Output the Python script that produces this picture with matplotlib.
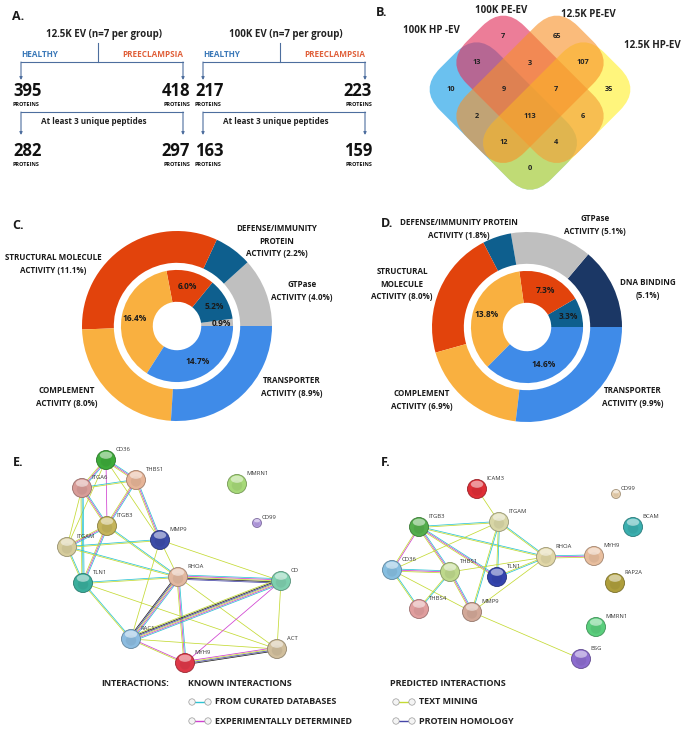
import matplotlib
matplotlib.use("Agg")
import matplotlib.pyplot as plt
import matplotlib.colors as mcolors
import numpy as np
from matplotlib.patches import Circle, Ellipse, FancyBboxPatch
from matplotlib.transforms import Affine2D

plt.rcParams["font.family"] = ["Open Sans", "DejaVu Sans"]

W, H = 685, 729

# ── panel A: protein counts ─────────────────────────────────────────────────
ev_groups = ["12.5K EV (n=7 per group)", "100K EV (n=7 per group)"]
healthy_total = [395, 217]
pe_total = [418, 223]
healthy_filtered = [282, 163]
pe_filtered = [297, 159]

# ── panel B: venn ───────────────────────────────────────────────────────────
venn_sets = ["100K HP -EV", "100K PE-EV", "12.5K PE-EV", "12.5K HP-EV"]
venn_colors = ["#1EA2E8", "#E2345F", "#F7922A", "#FFEE1E"]
venn_alpha = [0.66, 0.64, 0.62, 0.58]
venn_z = [2, 3, 5, 4]
# membership (blue, pink, orange, yellow) -> count
venn_counts = {
    (1, 0, 0, 0): 10, (0, 1, 0, 0): 7, (0, 0, 1, 0): 65, (0, 0, 0, 1): 35,
    (1, 1, 0, 0): 13, (0, 1, 1, 0): 3, (0, 0, 1, 1): 107, (1, 1, 1, 0): 9,
    (0, 1, 1, 1): 7, (1, 0, 1, 0): 2, (1, 1, 1, 1): 113, (0, 1, 0, 1): 6,
    (1, 0, 1, 1): 12, (1, 1, 0, 1): 4, (1, 0, 0, 1): 0,
}

# ── panels C/D: molecular function donuts ───────────────────────────────────
C_outer_labels = ["GTPase\nACTIVITY (4.0%)", "DEFENSE/IMMUNITY\nPROTEIN\nACTIVITY (2.2%)",
                  "STRUCTURAL MOLECULE\nACTIVITY (11.1%)", "COMPLEMENT\nACTIVITY (8.0%)",
                  "TRANSPORTER\nACTIVITY (8.9%)"]
C_outer = [4.0, 2.2, 11.1, 8.0, 8.9]
C_outer_col = ["#BFBFBF", "#0E5F8E", "#E2430C", "#F9B040", "#3F8BE8"]
C_inner = [0.9, 5.2, 6.0, 16.4, 14.7]
C_inner_col = ["#BFBFBF", "#0E5F8E", "#E2430C", "#F9B040", "#3F8BE8"]

D_outer_labels = ["DNA BINDING\n(5.1%)", "GTPase\nACTIVITY (5.1%)",
                  "DEFENSE/IMMUNITY PROTEIN\nACTIVITY (1.8%)",
                  "STRUCTURAL\nMOLECULE\nACTIVITY (8.0%)", "COMPLEMENT\nACTIVITY (6.9%)",
                  "TRANSPORTER\nACTIVITY (9.9%)"]
D_outer = [5.1, 5.1, 1.8, 8.0, 6.9, 9.9]
D_outer_col = ["#1B3765", "#BFBFBF", "#0E5F8E", "#E2430C", "#F9B040", "#3F8BE8"]
D_inner = [3.3, 7.3, 13.8, 14.6]
D_inner_col = ["#0E5F8E", "#E2430C", "#F9B040", "#3F8BE8"]

# ── panels E/F: STRING networks (c curated, e experimental, t text, h homology, k coexpr)
E_nodes = ["CD36", "THBS1", "ITGA6", "ITGB3", "ITGAM", "MMP9", "TLN1", "RHOA",
           "CD", "MMRN1", "CD99", "RAC1", "MYH9", "ACT"]
E_edges = [
    ("CD36", "ITGA6", "cet"), ("CD36", "THBS1", "cet"), ("CD36", "ITGB3", "e"),
    ("CD36", "ITGAM", "t"), ("CD36", "MMP9", "t"), ("ITGA6", "THBS1", "ct"),
    ("ITGA6", "ITGB3", "cet"), ("ITGA6", "TLN1", "cct"), ("ITGA6", "ITGAM", "t"),
    ("THBS1", "ITGB3", "cet"), ("THBS1", "MMP9", "cet"), ("ITGB3", "ITGAM", "cet"),
    ("ITGB3", "TLN1", "cet"), ("ITGB3", "RHOA", "ct"), ("ITGAM", "MMP9", "ct"),
    ("ITGAM", "TLN1", "ct"), ("ITGAM", "RHOA", "ct"), ("TLN1", "RHOA", "ct"),
    ("TLN1", "RAC1", "ct"), ("TLN1", "ACT", "t"), ("MMP9", "RHOA", "t"),
    ("MMP9", "CD", "t"), ("MMP9", "RAC1", "t"), ("RHOA", "CD", "cetkh"),
    ("RHOA", "RAC1", "cethk"), ("RHOA", "MYH9", "cet"), ("RHOA", "ACT", "t"),
    ("CD", "RAC1", "cethkt"), ("CD", "MYH9", "e"), ("CD", "ACT", "t"),
    ("RAC1", "MYH9", "et"), ("RAC1", "ACT", "t"), ("MYH9", "ACT", "ethk"),
]
F_nodes = ["ICAM3", "CD99", "ITGB3", "ITGAM", "BCAM", "RHOA", "MYH9", "CD36",
           "THBS1", "TLN1", "RAP2A", "THBS4", "MMP9", "MMRN1", "BSG"]
F_edges = [
    ("ICAM3", "ITGAM", "t"), ("ITGB3", "ITGAM", "ct"), ("ITGB3", "RHOA", "ct"),
    ("ITGB3", "CD36", "et"), ("ITGB3", "THBS1", "cet"), ("ITGB3", "TLN1", "cet"),
    ("ITGAM", "CD36", "t"), ("ITGAM", "TLN1", "ct"), ("ITGAM", "RHOA", "ct"),
    ("ITGAM", "MMP9", "ct"), ("RHOA", "MYH9", "cet"), ("RHOA", "TLN1", "ct"),
    ("RHOA", "THBS1", "t"), ("RHOA", "MMP9", "t"), ("CD36", "THBS1", "cet"),
    ("CD36", "THBS4", "ct"), ("CD36", "MMP9", "t"), ("THBS1", "THBS4", "ct"),
    ("THBS1", "MMP9", "cet"), ("MMP9", "BSG", "t"),
]

# ── layout (pixel positions) ────────────────────────────────────────────────
E_pos = {"CD36": (106, 460), "THBS1": (136, 480), "ITGA6": (82, 488), "ITGB3": (107, 526),
         "ITGAM": (67, 547), "MMP9": (160, 540), "TLN1": (83, 583), "RHOA": (178, 577),
         "CD": (281, 581), "MMRN1": (237, 484), "CD99": (257, 523), "RAC1": (131, 639),
         "MYH9": (185, 663), "ACT": (277, 649)}
E_col = {"CD36": "#3DAA3A", "THBS1": "#E6B497", "ITGA6": "#D89C98", "ITGB3": "#C4B45A",
         "ITGAM": "#D6CC9C", "MMP9": "#3C4CA8", "TLN1": "#3AAE9C", "RHOA": "#E2B8A0",
         "CD": "#7ECFAE", "MMRN1": "#A6D878", "CD99": "#B49CE0", "RAC1": "#8CBCE0",
         "MYH9": "#DE3848", "ACT": "#D0BE9C"}
F_pos = {"ICAM3": (477, 489), "CD99": (616, 494), "ITGB3": (419, 527), "ITGAM": (499, 522),
         "BCAM": (633, 527), "RHOA": (546, 557), "MYH9": (594, 556), "CD36": (392, 570),
         "THBS1": (450, 572), "TLN1": (497, 577), "RAP2A": (615, 583), "THBS4": (419, 609),
         "MMP9": (472, 612), "MMRN1": (596, 627), "BSG": (581, 659)}
F_col = {"ICAM3": "#DE2E36", "CD99": "#E8D0AE", "ITGB3": "#54AE4C", "ITGAM": "#D8D6A6",
         "BCAM": "#3AAEAE", "RHOA": "#E0D6A6", "MYH9": "#E8BE9E", "CD36": "#86BEE0",
         "THBS1": "#BED88C", "TLN1": "#3444AE", "RAP2A": "#AE9E3C", "THBS4": "#E09E9E",
         "MMP9": "#D2A898", "MMRN1": "#5ACE7C", "BSG": "#8C6CCE"}
small_nodes = {"CD99"}
EDGE_COL = {"c": "#2CC4D4", "e": "#D040D0", "t": "#C4DA34", "h": "#4646A8", "k": "#222222"}

fig = plt.figure(figsize=(W / 100, H / 100), dpi=100)
ax = fig.add_axes([0, 0, 1, 1])
ax.set_xlim(0, W)
ax.set_ylim(H, 0)
ax.axis("off")

LINE = "#4D6E9E"
BLUE_T = "#3A78B8"
RED_T = "#E0603A"
TXT = "#1a1a1a"


def panel_label(x, y, s):
    ax.text(x, y, s, fontsize=9, fontweight="bold", ha="left", va="center", color=TXT)


def arrow_down(x, y0, y1):
    ax.annotate("", xy=(x, y1), xytext=(x, y0),
                arrowprops=dict(arrowstyle="-|>", color=LINE, lw=0.8,
                                mutation_scale=4, shrinkA=0, shrinkB=0))


# ── A ───────────────────────────────────────────────────────────────────────
panel_label(12, 16, "A.")
for i, title in enumerate(ev_groups):
    dx = 182 * i
    xl, xr = 21 + dx, 183 + dx
    ax.text(104 + dx, 34, title, fontsize=7, fontweight="bold", ha="center", va="center", color="#222")
    ax.text(xl, 54, "HEALTHY", fontsize=5.9, fontweight="bold", ha="left", va="center", color=BLUE_T)
    ax.text(xr, 54, "PREECLAMPSIA", fontsize=5.9, fontweight="bold", ha="right", va="center", color=RED_T)
    ax.plot([98 + dx, 98 + dx], [43, 62], color=LINE, lw=0.8)
    ax.plot([xl, xr], [62, 62], color=LINE, lw=0.8)
    ax.plot([xl, xr], [112, 112], color=LINE, lw=0.8)
    for x in (xl, xr):
        arrow_down(x, 62, 80)
        arrow_down(x, 112, 135)
    ax.text(94 + dx, 121, "At least 3 unique peptides", fontsize=5.9, fontweight="bold",
            ha="center", va="center", color="#222")
    for y_num, hv, pv in ((91, healthy_total[i], pe_total[i]), (151, healthy_filtered[i], pe_filtered[i])):
        ax.text(13 + dx, y_num, str(hv), fontsize=12, fontweight="bold", ha="left", va="center", color="#111")
        ax.text(190 + dx, y_num, str(pv), fontsize=12, fontweight="bold", ha="right", va="center", color="#111")
        ax.text(13 + dx, y_num + 13, "PROTEINS", fontsize=4, fontweight="bold", ha="left", va="center", color="#111")
        ax.text(190 + dx, y_num + 13, "PROTEINS", fontsize=4, fontweight="bold", ha="right", va="center", color="#111")

# ── B ───────────────────────────────────────────────────────────────────────
panel_label(376, 12, "B.")
VC, STEP = (530, 116), 13.35
# bounds of each set in the rotated lattice (s: down-right, t: down-left)
venn_bounds = [((-5, 3), (-1, 3)), ((-5, 3), (-3, 1)), ((-3, 1), (-5, 3)), ((-1, 3), (-5, 3))]


def lat2px(s, t):
    return VC[0] + STEP * (s - t), VC[1] + STEP * (s + t)


unit = STEP * np.sqrt(2)
for (sb, tb), col, al, z in zip(venn_bounds, venn_colors, venn_alpha, venn_z):
    Ls, Lt = (sb[1] - sb[0]) * unit, (tb[1] - tb[0]) * unit
    cx, cy = lat2px((sb[0] + sb[1]) / 2, (tb[0] + tb[1]) / 2)
    box = FancyBboxPatch((-Ls / 2, -Lt / 2), Ls, Lt,
                         boxstyle="round,pad=3,rounding_size=30",
                         fc=col, ec="none", alpha=al, zorder=z)
    box.set_transform(Affine2D().rotate_deg(45).translate(cx, cy) + ax.transData)
    ax.add_patch(box)

ss, tt = np.meshgrid(np.linspace(-5, 3, 161), np.linspace(-5, 3, 161))
member = [((ss > sb[0]) & (ss < sb[1]) & (tt > tb[0]) & (tt < tb[1])) for sb, tb in venn_bounds]
for key, cnt in venn_counts.items():
    m = np.ones_like(ss, dtype=bool)
    for flag, mm in zip(key, member):
        m &= mm if flag else ~mm
    x, y = lat2px(ss[m].mean(), tt[m].mean())
    ax.text(x, y, str(cnt), fontsize=5.3, fontweight="bold", ha="center", va="center", color="#222", zorder=8)

for name, (x, y) in zip(venn_sets, [(431, 30), (501, 10), (588, 14), (652, 45)]):
    ax.text(x, y, name, fontsize=7, fontweight="bold", ha="center", va="center", color="#222")


# ── C / D donuts ────────────────────────────────────────────────────────────
def donut(cx, cy, outer, ocol, inner, icol, inner_txt):
    R = 95
    pax = fig.add_axes([(cx - R) / W, 1 - (cy + R) / H, 2 * R / W, 2 * R / H])
    pax.pie(outer, colors=ocol, startangle=0, counterclock=True, radius=1.0,
            wedgeprops=dict(width=0.335, linewidth=0))
    pax.pie(inner, colors=icol, startangle=0, counterclock=True, radius=0.59,
            wedgeprops=dict(width=0.335, linewidth=0))
    pax.set_xlim(-1, 1)
    pax.set_ylim(-1, 1)
    pax.set_aspect("equal")
    pax.axis("off")
    ang = np.cumsum([0] + list(inner)) / sum(inner) * 2 * np.pi
    for v, a0, a1, txt in zip(inner, ang[:-1], ang[1:], inner_txt):
        am = (a0 + a1) / 2
        r = 0.43 if (a1 - a0) > 0.3 else 0.45
        pax.text(r * np.cos(am) * 1.05, r * np.sin(am), txt, fontsize=6, fontweight="bold",
                 ha="center", va="center", color=TXT)


panel_label(12, 225, "C.")
donut(177, 326, C_outer, C_outer_col, C_inner, C_inner_col, [f"{v}%" for v in C_inner])
for txt, (x, y) in zip(C_outer_labels, [(302, 291), (277, 241), (53, 264), (67, 397), (292, 387)]):
    ax.text(x, y, txt, fontsize=5.8, fontweight="bold", ha="center", va="center",
            color=TXT, linespacing=1.45)

panel_label(381, 223, "D.")
donut(527, 327, D_outer, D_outer_col, D_inner, D_inner_col, [f"{v}%" for v in D_inner])
for txt, (x, y) in zip(D_outer_labels, [(648, 289), (595, 225), (459, 229), (402, 284),
                                         (422, 400), (633, 397)]):
    ax.text(x, y, txt, fontsize=5.8, fontweight="bold", ha="center", va="center",
            color=TXT, linespacing=1.45)


# ── E / F networks ──────────────────────────────────────────────────────────
def draw_edge(p1, p2, kinds, sep=1.1, lw=0.55):
    p1, p2 = np.array(p1, float), np.array(p2, float)
    d = p2 - p1
    n = np.array([-d[1], d[0]]) / np.hypot(*d)
    k = len(kinds)
    for i, kind in enumerate(kinds):
        off = (i - (k - 1) / 2) * sep
        a, b = p1 + n * off, p2 + n * off
        ax.plot([a[0], b[0]], [a[1], b[1]], color=EDGE_COL[kind], lw=lw, zorder=2,
                solid_capstyle="butt")


def draw_node(name, xy, col):
    r = 4.5 if name in small_nodes else 9.5
    x, y = xy
    dark = np.array(mcolors.to_rgb(col)) * 0.7
    ax.add_patch(Circle((x, y), r, fc=col, ec=dark, lw=0.6, zorder=4))
    ax.add_patch(Circle((x, y + r * 0.15), r * 0.55, fc=dark, ec="none", alpha=0.18, zorder=5))
    ax.add_patch(Ellipse((x, y - r * 0.5), r * 1.3, r * 0.75, fc="white", ec="none",
                         alpha=0.5, zorder=6))
    ax.text(x + r * 0.9 + 1, y - r - 1, name, fontsize=4.2, ha="left", va="center",
            color="#333", zorder=7)


def network(nodes, edges, pos, cols):
    for a, b, kinds in edges:
        draw_edge(pos[a], pos[b], kinds)
    for nm in nodes:
        draw_node(nm, pos[nm], cols[nm])


panel_label(13, 462, "E.")
network(E_nodes, E_edges, E_pos, E_col)
panel_label(381, 462, "F.")
network(F_nodes, F_edges, F_pos, F_col)

# ── legend ──────────────────────────────────────────────────────────────────
legend_rows = [("FROM CURATED DATABASES", "c", 188, 702), ("EXPERIMENTALLY DETERMINED", "e", 188, 721),
               ("TEXT MINING", "t", 392, 702), ("PROTEIN HOMOLOGY", "h", 392, 721)]
for txt, x in (("INTERACTIONS:", 101), ("KNOWN INTERACTIONS", 188), ("PREDICTED INTERACTIONS", 390)):
    ax.text(x, 684, txt, fontsize=6.5, fontweight="bold", ha="left", va="center", color="#222")
for txt, kind, x0, y in legend_rows:
    ax.plot([x0 + 5, x0 + 19], [y, y], color=EDGE_COL[kind], lw=1.0, zorder=2)
    for xc in (x0 + 4, x0 + 20):
        ax.add_patch(Circle((xc, y), 3.2, fc="#f4f4f4", ec="#9a9a9a", lw=0.5, zorder=3))
    ax.text(x0 + 27, y, txt, fontsize=6.5, fontweight="bold", ha="left", va="center", color="#222")

fig.savefig("out.png", dpi=100, facecolor="white")
